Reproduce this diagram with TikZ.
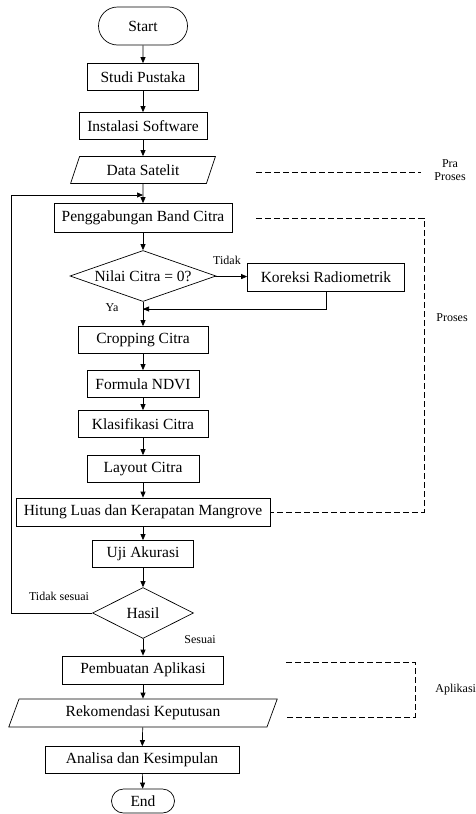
\documentclass[tikz,border=0pt]{standalone}
\usepackage{fontspec}
\setmainfont{Liberation Serif}
\usetikzlibrary{arrows.meta,shapes.geometric,shapes.misc}

\begin{document}
\begin{tikzpicture}[
    x=1pt, y=-1pt, ->, >={Triangle[length=6pt,width=5pt]}, line width=0.7pt,
    font=\fontsize{15.5}{17}\selectfont,
    terminal/.style={rounded rectangle, draw, minimum height=24pt, inner sep=2pt},
    process/.style={rectangle, draw, minimum height=27pt, inner sep=2pt},
    data/.style={trapezium, trapezium left angle=70, trapezium right angle=110,
        trapezium stretches=true, draw, minimum height=27pt, inner sep=2pt},
    decision/.style={diamond, draw, minimum height=51pt, inner sep=0pt},
    note/.style={font=\fontsize{12}{13}\selectfont, inner sep=1pt},
    group/.style={-, dash pattern=on 6pt off 3pt}]

    \path[use as bounding box] (0,0) rectangle (476,814);

    % Define steps
    \node[terminal, minimum width=93pt, minimum height=38pt] (start) at (143,26) {Start};
    \node[process, minimum width=111pt] (studi) at (143,77) {Studi Pustaka};
    \node[process, minimum width=128pt] (instal) at (143,126) {Instalasi Software};
    \node[data, minimum width=145pt] (satelit) at (143,170) {Data Satelit};
    \node[process, minimum width=178pt, minimum height=29pt] (gabung) at (143,218) {Penggabungan Band Citra};
    \node[decision, aspect=2.86, minimum width=146pt] (nilai) at (143,276) {Nilai Citra = 0?};
    \node[process, minimum width=157pt, minimum height=28pt] (koreksi) at (326,277) {Koreksi Radiometrik};
    \node[process, minimum width=130pt] (crop) at (143,340) {Cropping Citra};
    \node[process, minimum width=112pt] (ndvi) at (143,384) {Formula NDVI};
    \node[process, minimum width=130pt] (klas) at (143,424) {Klasifikasi Citra};
    \node[process, minimum width=112pt] (layout) at (143,469) {Layout Citra};
    \node[process, minimum width=254pt, minimum height=28pt] (hitung) at (143,512) {Hitung Luas dan Kerapatan Mangrove};
    \node[process, minimum width=101pt] (uji) at (143,554) {Uji Akurasi};
    \node[decision, aspect=2, minimum width=101pt] (hasil) at (143,613) {Hasil};
    \node[process, minimum width=161pt, minimum height=28pt] (aplikasi) at (143,670) {Pembuatan Aplikasi};
    \node[data, minimum width=269pt, minimum height=28pt] (rekom) at (143,713) {Rekomendasi Keputusan};
    \node[process, minimum width=194pt] (analisa) at (142,760) {Analisa dan Kesimpulan};
    \node[terminal, minimum width=67pt] (end) at (143,801) {End};

    % Branch labels
    \node[note] (tidak) at (227,260) {Tidak};
    \node[note] (ya) at (112,308) {Ya};
    \node[note] (tdksesuai) at (59,596) {Tidak sesuai};
    \node[note] (sesuai) at (200,640) {Sesuai};

    % Join points
    \coordinate (jmasuk) at (143,195);
    \coordinate (jya) at (143,309);
    \coordinate (jkiri) at (11,613);

    % Draw flow
    \draw (start) -- (studi);
    \draw (studi) -- (instal);
    \draw (instal) -- (satelit);
    \draw (satelit) -- (gabung);
    \draw (gabung) -- (nilai);
    \draw (nilai) -- (koreksi);
    \draw[-] (koreksi.south) |- (jya);
    \draw ([xshift=183pt]jya) -- (jya);
    \draw (nilai) -- (crop);
    \draw (crop) -- (ndvi);
    \draw (ndvi) -- (klas);
    \draw (klas) -- (layout);
    \draw (layout) -- (hitung);
    \draw (hitung) -- (uji);
    \draw (uji) -- (hasil);
    \draw (hasil.west) -- (jkiri) |- (jmasuk);
    \draw (hasil) -- (aplikasi);
    \draw (aplikasi) -- (rekom);
    \draw (rekom) -- (analisa);
    \draw (analisa) -- (end);

    % Stage brackets
    \draw[group] (256,172) -- (421,172);
    \node[note, align=center] (pra) at (450,170) {Pra\\Proses};
    \draw[group] ([xshift=24pt]gabung.east) -| (424,512) -- (hitung.east);
    \node[note] (proses) at (452,318) {Proses};
    \draw[group] (286,662) -| (415,717) -- (286,717);
    \node[note, anchor=west] (apl) at (434,690) {Aplikasi};
\end{tikzpicture}
\end{document}
